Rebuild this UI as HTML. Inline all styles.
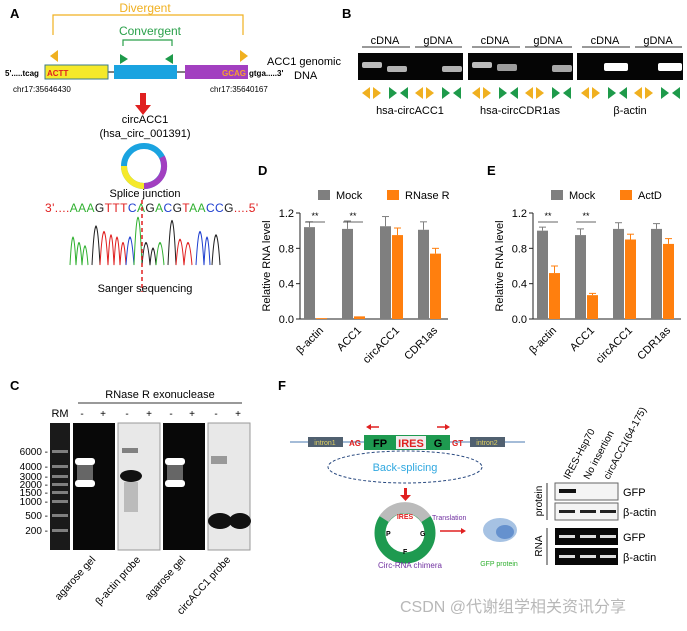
<!DOCTYPE html>
<html><head><meta charset="utf-8"><style>
body{margin:0;background:#fff;width:687px;height:626px;overflow:hidden}
svg{font-family:"Liberation Sans","Noto Sans CJK SC",sans-serif}
</style></head><body>
<svg id="fig" width="687" height="626" viewBox="0 0 687 626" xmlns="http://www.w3.org/2000/svg">
<!-- Panel A -->
<g>
<text x="10" y="18" font-size="13" font-weight="bold">A</text>
<text x="145" y="12" font-size="12" fill="#f0b020" text-anchor="middle">Divergent</text>
<path d="M53 35V15H243V35" fill="none" stroke="#f0b020" stroke-width="1.2"/>
<text x="150" y="35" font-size="12" fill="#2aa04a" text-anchor="middle">Convergent</text>
<path d="M123 46V40H172V46" fill="none" stroke="#2aa04a" stroke-width="1.2"/>
<polygon points="58,50 58,62 50,56" fill="#f0b020"/>
<polygon points="120,54 120,64 128,59" fill="#1e9a4a"/>
<polygon points="173,54 173,64 165,59" fill="#1e9a4a"/>
<polygon points="240,50 240,62 248,56" fill="#f0b020"/>
<line x1="108" y1="72" x2="185" y2="72" stroke="#000"/>
<rect x="45" y="65" width="63" height="14" fill="#f5e92a" stroke="#3a7a8a"/>
<rect x="114" y="65" width="63" height="14" fill="#1aa3e0"/>
<rect x="185" y="65" width="63" height="14" fill="#a23fc0"/>
<text x="5" y="76" font-size="8" font-weight="bold">5'.....tcag</text>
<text x="47" y="76" font-size="8" font-weight="bold" fill="#e02020">ACTT</text>
<text x="222" y="76" font-size="8" font-weight="bold" fill="#f5a030">GCAG</text>
<text x="249" y="76" font-size="8" font-weight="bold">gtga.....3'</text>
<text x="267" y="65" font-size="11">ACC1 genomic</text>
<text x="294" y="79" font-size="11">DNA</text>
<text x="13" y="92" font-size="8">chr17:35646430</text>
<text x="210" y="92" font-size="8">chr17:35640167</text>
<rect x="140" y="93" width="6" height="12" fill="#e02020"/>
<polygon points="135,105 151,105 143,115" fill="#e02020"/>
<text x="145" y="123" font-size="11" text-anchor="middle">circACC1</text>
<text x="145" y="137" font-size="11" text-anchor="middle">(hsa_circ_001391)</text>
<circle cx="144" cy="166" r="20" fill="none" stroke="#1aa3e0" stroke-width="6"/>
<path d="M124 166A20 20 0 0 0 144 186" fill="none" stroke="#f5e92a" stroke-width="6"/>
<path d="M144 186A20 20 0 0 0 162 157" fill="none" stroke="#a23fc0" stroke-width="6"/>
<text x="145" y="197" font-size="11" text-anchor="middle">Splice junction</text>
<text x="45" y="212" font-size="12" letter-spacing="0.4"><tspan fill="#e02020">3'....</tspan><tspan fill="#30b030">AAA</tspan><tspan fill="#222">G</tspan><tspan fill="#e02020">TTT</tspan><tspan fill="#2040d0">C</tspan><tspan fill="#30b030">A</tspan><tspan fill="#222">G</tspan><tspan fill="#30b030">A</tspan><tspan fill="#2040d0">C</tspan><tspan fill="#222">G</tspan><tspan fill="#e02020">T</tspan><tspan fill="#30b030">AA</tspan><tspan fill="#2040d0">CC</tspan><tspan fill="#222">G</tspan><tspan fill="#e02020">....5'</tspan></text>
<g fill="none" stroke-width="1" transform="translate(0,265) scale(1,2.2) translate(0,-265)">
<path d="M70 265 Q73 240 76 265 Q79 245 82 265 Q85 248 88 265" stroke="#30b030"/>
<path d="M92 265 Q96 230 100 265" stroke="#222"/>
<path d="M100 265 Q104 235 108 265 Q111 238 114 265 Q117 240 120 265 Q123 245 126 265" stroke="#e02020"/>
<path d="M126 265 Q130 240 134 265" stroke="#2040d0"/>
<path d="M134 265 Q138 222 142 265" stroke="#30b030"/>
<path d="M142 265 Q146 245 150 265 Q153 250 156 265" stroke="#222"/>
<path d="M156 265 Q160 245 164 265" stroke="#30b030"/>
<path d="M168 265 Q172 225 176 265" stroke="#222"/>
<path d="M176 265 Q180 242 184 265 Q188 245 192 265" stroke="#e02020"/>
<path d="M196 265 Q200 235 204 265 Q207 240 210 265" stroke="#2040d0"/>
<path d="M212 265 Q216 238 220 265" stroke="#222"/>
</g>
<line x1="142" y1="200" x2="142" y2="292" stroke="#e02020" stroke-width="1.5" stroke-dasharray="4,3"/>
<text x="145" y="292" font-size="11" text-anchor="middle">Sanger sequencing</text>
</g>
<!-- Panel B -->
<g>
<text x="342" y="18" font-size="13" font-weight="bold">B</text>
<g font-size="11" text-anchor="middle">
<text x="385" y="44">cDNA</text><text x="438" y="44">gDNA</text>
<text x="495" y="44">cDNA</text><text x="548" y="44">gDNA</text>
<text x="605" y="44">cDNA</text><text x="658" y="44">gDNA</text>
</g>
<g stroke="#333"><line x1="362" y1="47" x2="410" y2="47"/><line x1="415" y1="47" x2="462" y2="47"/><line x1="472" y1="47" x2="520" y2="47"/><line x1="525" y1="47" x2="572" y2="47"/><line x1="582" y1="47" x2="630" y2="47"/><line x1="635" y1="47" x2="682" y2="47"/></g>
<rect x="358" y="53" width="105" height="27" fill="#050505"/>
<rect x="468" y="53" width="105" height="27" fill="#050505"/>
<rect x="577" y="53" width="106" height="27" fill="#050505"/>
<g fill="#ddd"><rect x="362" y="62" width="20" height="6" rx="2" opacity=".85"/><rect x="387" y="66" width="20" height="6" rx="2" opacity=".8"/><rect x="442" y="66" width="20" height="6" rx="2" opacity=".8"/>
<rect x="472" y="62" width="20" height="6" rx="2" opacity=".85"/><rect x="497" y="64" width="20" height="7" rx="2" opacity=".7"/><rect x="552" y="65" width="20" height="7" rx="2" opacity=".75"/>
<rect x="604" y="63" width="24" height="8" rx="2" fill="#fff"/><rect x="658" y="63" width="24" height="8" rx="2" fill="#fff"/></g>
<g id="btri"></g>
<g font-size="11" text-anchor="middle"><text x="410" y="114">hsa-circACC1</text><text x="520" y="114">hsa-circCDR1as</text><text x="630" y="114">β-actin</text></g>
</g>
<!-- Panel D & E -->
<g id="chartD"><text x="258" y="175" font-size="13" font-weight="bold">D</text></g>
<g id="chartE"><text x="487" y="175" font-size="13" font-weight="bold">E</text></g>
<!-- Panel C -->
<g>
<text x="10" y="390" font-size="13" font-weight="bold">C</text>
<text x="160" y="398" font-size="11" text-anchor="middle">RNase  R  exonuclease</text>
<line x1="78" y1="403" x2="242" y2="403" stroke="#333"/>
<g font-size="10" text-anchor="middle"><text x="60" y="417" font-size="11">RM</text>
<text x="82" y="417">-</text><text x="103" y="417">+</text><text x="127" y="417">-</text><text x="149" y="417">+</text><text x="171" y="417">-</text><text x="192" y="417">+</text><text x="216" y="417">-</text><text x="238" y="417">+</text></g>
<rect x="50" y="423" width="20" height="127" fill="#1a1a1a"/>
<g fill="#aaa" opacity=".7"><rect x="52" y="450" width="16" height="3"/><rect x="52" y="465" width="16" height="3"/><rect x="52" y="475" width="16" height="3"/><rect x="52" y="483" width="16" height="3"/><rect x="52" y="491" width="16" height="3"/><rect x="52" y="500" width="16" height="3"/><rect x="52" y="514" width="16" height="3"/><rect x="52" y="529" width="16" height="3"/></g>
<rect x="73" y="423" width="42" height="127" fill="#080808"/>
<rect x="75" y="458" width="20" height="7" rx="3" fill="#fff"/><rect x="75" y="480" width="20" height="7" rx="3" fill="#fff"/><rect x="77" y="465" width="16" height="15" fill="#666"/>
<rect x="118" y="423" width="42" height="127" fill="#e8e8e8" stroke="#999"/>
<rect x="122" y="448" width="16" height="5" fill="#555" opacity=".7"/><ellipse cx="131" cy="476" rx="11" ry="6" fill="#111"/><rect x="124" y="482" width="14" height="30" fill="#bbb"/>
<rect x="163" y="423" width="42" height="127" fill="#080808"/>
<rect x="165" y="458" width="20" height="7" rx="3" fill="#fff"/><rect x="165" y="480" width="20" height="7" rx="3" fill="#fff"/><rect x="167" y="465" width="16" height="15" fill="#666"/>
<rect x="208" y="423" width="42" height="127" fill="#e8e8e8" stroke="#999"/>
<rect x="211" y="456" width="16" height="8" fill="#777" opacity=".7"/><ellipse cx="220" cy="521" rx="12" ry="8" fill="#111"/><ellipse cx="240" cy="521" rx="11" ry="8" fill="#111"/>
<g font-size="10" text-anchor="end"><text x="48" y="455">6000 -</text><text x="48" y="470">4000 -</text><text x="48" y="480">3000 -</text><text x="48" y="488">2000 -</text><text x="48" y="496">1500 -</text><text x="48" y="505">1000 -</text><text x="48" y="519">500 -</text><text x="48" y="534">200 -</text></g>
<g font-size="10.5" text-anchor="end">
<text transform="translate(96,560) rotate(-48)">agarose gel</text>
<text transform="translate(141,560) rotate(-48)">β-actin probe</text>
<text transform="translate(186,560) rotate(-48)">agarose gel</text>
<text transform="translate(231,560) rotate(-48)">circACC1 probe</text></g>
</g>
<!-- Panel F -->
<g>
<text x="278" y="390" font-size="13" font-weight="bold">F</text>
<line x1="290" y1="442" x2="525" y2="442" stroke="#4a7ab0"/>
<rect x="308" y="437" width="35" height="10" fill="#506070"/><text x="325" y="445" font-size="7" fill="#e0d060" text-anchor="middle">intron1</text>
<rect x="470" y="437" width="35" height="10" fill="#506070"/><text x="487" y="445" font-size="7" fill="#e0d060" text-anchor="middle">intron2</text>
<text x="349" y="446" font-size="8" font-weight="bold" fill="#e02020">AG</text><text x="452" y="446" font-size="8" font-weight="bold" fill="#e02020">GT</text>
<rect x="364" y="435" width="86" height="15" fill="#1e9a50"/><rect x="396" y="436" width="30" height="13" fill="#eee"/>
<text x="380" y="447" font-size="11" font-weight="bold" text-anchor="middle">FP</text><text x="411" y="447" font-size="11" font-weight="bold" fill="#e02020" text-anchor="middle">IRES</text><text x="438" y="447" font-size="11" font-weight="bold" text-anchor="middle">G</text>
<line x1="370" y1="427" x2="379" y2="427" stroke="#e02020" stroke-width="1.5"/><polygon points="366,427 371,424 371,430" fill="#e02020"/>
<line x1="437" y1="427" x2="446" y2="427" stroke="#e02020" stroke-width="1.5"/><polygon points="450,427 445,424 445,430" fill="#e02020"/>
<ellipse cx="405" cy="467" rx="77" ry="16" fill="none" stroke="#2a4a80" stroke-dasharray="3,2"/>
<text x="405" y="471" font-size="11" fill="#30a8e0" text-anchor="middle">Back-splicing</text>
<rect x="404" y="488" width="3" height="7" fill="#e02020"/><polygon points="400,495 411,495 405.5,501" fill="#e02020"/>
<circle cx="405" cy="533" r="25" fill="none" stroke="#1e9a50" stroke-width="11"/>
<path d="M384 519A25 25 0 0 1 426 519" fill="none" stroke="#bbb" stroke-width="11"/>
<text x="405" y="519" font-size="7" font-weight="bold" fill="#e02020" text-anchor="middle">IRES</text>
<text x="386" y="536" font-size="7" font-weight="bold">P</text><text x="420" y="536" font-size="7" font-weight="bold">G</text><text x="403" y="554" font-size="7" font-weight="bold">F</text>
<text x="410" y="568" font-size="8" fill="#7030a0" text-anchor="middle">Circ-RNA chimera</text>
<text x="432" y="520" font-size="7" fill="#7030a0">Translation</text>
<line x1="440" y1="531" x2="462" y2="531" stroke="#e02020" stroke-width="1.5"/><polygon points="466,531 461,528 461,534" fill="#e02020"/>
<ellipse cx="500" cy="530" rx="17" ry="12" fill="#6a9ad0" opacity=".6"/><ellipse cx="505" cy="532" rx="9" ry="7" fill="#3a70c0" opacity=".6"/>
<text x="499" y="566" font-size="7" fill="#30b030" text-anchor="middle">GFP protein</text>
<g font-size="10" text-anchor="start">
<text transform="translate(569,480) rotate(-62)">IRES-Hsp70</text>
<text transform="translate(589,480) rotate(-62)">No insertion</text>
<text transform="translate(609,480) rotate(-62)">circACC1(64-175)</text></g>
<rect x="555" y="483" width="63" height="17" fill="#f4f4f4" stroke="#666"/>
<rect x="559" y="489" width="17" height="4" fill="#111"/>
<rect x="555" y="503" width="63" height="17" fill="#f4f4f4" stroke="#666"/>
<rect x="559" y="510" width="16" height="3" fill="#222"/><rect x="580" y="510" width="16" height="3" fill="#222"/><rect x="600" y="510" width="16" height="3" fill="#222"/>
<rect x="555" y="528" width="63" height="17" fill="#080808"/>
<rect x="559" y="535" width="16" height="3" fill="#ddd"/><rect x="580" y="535" width="16" height="3" fill="#ddd"/><rect x="600" y="535" width="16" height="3" fill="#ddd"/>
<rect x="555" y="548" width="63" height="17" fill="#080808"/>
<rect x="559" y="555" width="16" height="3" fill="#ddd"/><rect x="580" y="555" width="16" height="3" fill="#ddd"/><rect x="600" y="555" width="16" height="3" fill="#ddd"/>
<g font-size="11"><text x="623" y="496">GFP</text><text x="623" y="516">β-actin</text><text x="623" y="541">GFP</text><text x="623" y="561">β-actin</text></g>
<line x1="547" y1="483" x2="547" y2="520" stroke="#333"/><line x1="547" y1="528" x2="547" y2="565" stroke="#333"/>
<text transform="translate(542,501) rotate(-90)" font-size="10" text-anchor="middle">protein</text>
<text transform="translate(542,546) rotate(-90)" font-size="10" text-anchor="middle">RNA</text>
</g>
<text x="400" y="612" font-size="16" fill="#b8b8b8">CSDN @代谢组学相关资讯分享</text>
</svg>
<script>
const categories = ["β-actin","ACC1","circACC1","CDR1as"];
const mockD = [1.04,1.02,1.05,1.01];
const mockDErr = [0.06,0.09,0.11,0.09];
const rnaseD = [0.01,0.03,0.95,0.74];
const rnaseDErr = [0.0,0.0,0.08,0.06];
const mockE = [1.0,0.95,1.02,1.02];
const mockEErr = [0.04,0.07,0.07,0.06];
const actdE = [0.52,0.27,0.90,0.85];
const actdEErr = [0.08,0.02,0.06,0.06];
const yTicks = [0.0,0.4,0.8,1.2];
const sigD = ["**","**","",""];
const sigE = ["**","**","",""];
const NS="http://www.w3.org/2000/svg";
function mk(p,t,a){const e=document.createElementNS(NS,t);for(const k in a)e.setAttribute(k,a[k]);p.appendChild(e);return e;}
function chart(g,x0,legend2,s1,e1,s2,e2,sig){
  const y0=319,y1=213;const ys=v=>y0-(v/1.2)*(y0-y1);
  const xs=i=>x0+4+i*38;
  let r=mk(g,'rect',{x:x0+18,y:190,width:12,height:10,fill:'#7f7f7f'});
  
  
  let t=mk(g,'text',{x:x0+36,y:199,'font-size':11});t.textContent='Mock';
  
  
  r=mk(g,'rect',{x:x0+87,y:190,width:12,height:10,fill:'#ff7f0e'});
  
  
  t=mk(g,'text',{x:x0+105,y:199,'font-size':11});t.textContent=legend2;
  
  
  let a=mk(g,'path',{d:`M${x0} ${y1}V${y0}H${x0+148}`,stroke:'#222',fill:'none'});
  
  
  yTicks.forEach(v=>{
    mk(g,'line',{x1:x0-4,x2:x0,y1:ys(v),y2:ys(v),stroke:'#222'});
    const tl=mk(g,'text',{x:x0-6,y:ys(v)+4,'font-size':11,'text-anchor':'end'});tl.textContent=v.toFixed(1);
    
    
  });
  const yl=mk(g,'text',{transform:`translate(${x0-30},${(y0+y1)/2}) rotate(-90)`,'font-size':11,'text-anchor':'middle'});
  yl.textContent='Relative RNA level';
  
  
  categories.forEach((c,i)=>{
    const bx=xs(i);
    [[s1[i],e1[i],'#7f7f7f',bx],[s2[i],e2[i],'#ff7f0e',bx+12]].forEach(([v,e,col,x],k)=>{
      const b=mk(g,'rect',{x:x,y:ys(v),width:11,height:y0-ys(v),fill:col});
      
      
      if(e>0){const ec=k?'#ff7f0e':'#7f7f7f';
        mk(g,'line',{x1:x+5.5,x2:x+5.5,y1:ys(v),y2:ys(v+e),stroke:ec});
        mk(g,'line',{x1:x+2,x2:x+9,y1:ys(v+e),y2:ys(v+e),stroke:ec});}
    });
    if(sig[i]){mk(g,'line',{x1:bx+1,x2:bx+21,y1:222,y2:222,stroke:'#333','stroke-width':0.7});
      const st=mk(g,'text',{x:bx+11,y:219,'font-size':9,'text-anchor':'middle'});st.textContent=sig[i];
      
      }
    const xl=mk(g,'text',{transform:`translate(${bx+20},${y0+12}) rotate(-45)`,'font-size':11,'text-anchor':'end'});
    xl.textContent=c;
    
    
  });
}
chart(document.getElementById('chartD'),300,'RNase R',mockD,mockDErr,rnaseD,rnaseDErr,sigD);
chart(document.getElementById('chartE'),533,'ActD',mockE,mockEErr,actdE,actdEErr,sigE);
const bt=document.getElementById('btri');
[358,468,577].forEach(gx=>{
  [0,1].forEach(h=>{
    const x=gx+4+h*53;
    [[x,'#f0b020','L'],[x+11,'#f0b020','R'],[x+27,'#1e9a4a','R'],[x+38,'#1e9a4a','L']].forEach(([px,col,d])=>{
      const p=d==='L'?`${px+8},87 ${px+8},99 ${px},93`:`${px},87 ${px},99 ${px+8},93`;
      const tr=mk(bt,'polygon',{points:p,fill:col});
      
      
    });
  });
});
</script>
</body></html>
